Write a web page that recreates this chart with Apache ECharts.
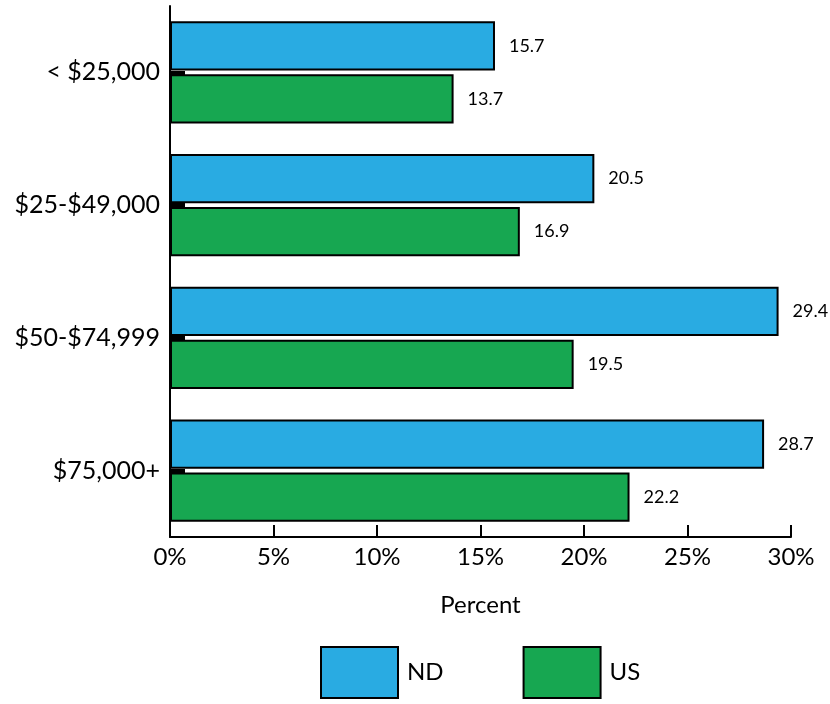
<!DOCTYPE html>
<html>
<head>
<meta charset="utf-8">
<style>
  html, body { margin: 0; padding: 0; background: #fff; }
  #chart { width: 830px; height: 704px; }
</style>
<script src="https://cdn.jsdelivr.net/npm/echarts@6/dist/echarts.min.js"></script>
</head>
<body>
<div id="chart"></div>
<script>
// categories, top to bottom
var categories = ['< $25,000', '$25-$49,000', '$50-$74,999', '$75,000+'];
var ndValues = [15.7, 20.5, 29.4, 28.7];
var usValues = [13.7, 16.9, 19.5, 22.2];
var seriesNames = ['ND', 'US'];

var FONT = 'Lato';
var chart = echarts.init(document.getElementById('chart'));

function barSeries(name, data, color) {
    return {
        name: name,
        type: 'bar',
        data: data,
        barGap: '8%',
        barCategoryGap: '23%',
        itemStyle: { color: color, borderColor: '#000', borderWidth: 2 },
        label: {
            show: true,
            position: 'right',
            distance: 14,
            color: '#000',
            fontFamily: FONT,
            fontSize: 18
        }
    };
}

chart.setOption({
    animation: false,
    grid: { left: 170, right: 39, top: 6, height: 531 },
    legend: {
        bottom: 0,
        left: 315,
        itemWidth: 77,
        itemHeight: 51,
        itemGap: 79,
        icon: 'rect',
        textStyle: { color: '#000', fontFamily: FONT, fontSize: 24, padding: [0, 0, 0, 4] },
        data: seriesNames
    },
    xAxis: {
        type: 'value',
        min: 0,
        max: 30,
        interval: 5,
        name: 'Percent',
        nameLocation: 'middle',
        nameGap: 56,
        nameTextStyle: { color: '#000', fontFamily: FONT, fontSize: 24 },
        axisLine: { show: true, lineStyle: { color: '#000', width: 2 } },
        axisTick: { show: true, inside: true, length: 12, lineStyle: { color: '#000', width: 2 } },
        axisLabel: { color: '#000', fontFamily: FONT, fontSize: 24, margin: 8, formatter: '{value}%' },
        splitLine: { show: false }
    },
    yAxis: {
        type: 'category',
        inverse: true,
        data: categories,
        axisLine: { show: true, lineStyle: { color: '#000', width: 2 } },
        axisTick: { show: true, inside: true, alignWithLabel: true, length: 15, lineStyle: { color: '#000', width: 4 } },
        axisLabel: { color: '#000', fontFamily: FONT, fontSize: 25, margin: 10 }
    },
    series: [
        barSeries('ND', ndValues, '#29abe2'),
        barSeries('US', usValues, '#17a751')
    ]
});
</script>
</body>
</html>
